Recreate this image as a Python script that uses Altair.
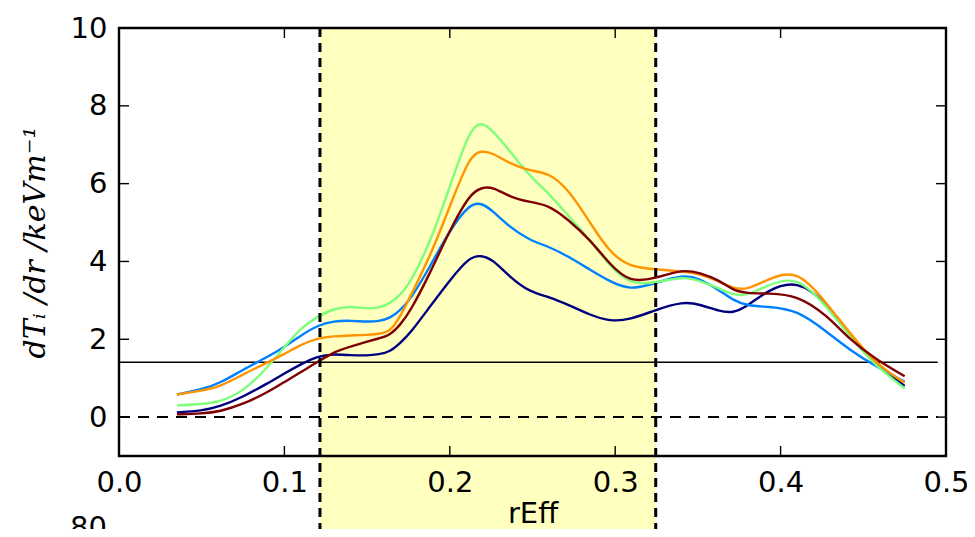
import altair as alt
import pandas as pd

# ---- data ----
r_eff = [0.035, 0.05, 0.061, 0.075, 0.09, 0.10, 0.11, 0.12, 0.13, 0.14, 0.15, 0.157,
         0.164, 0.17, 0.176, 0.188, 0.20, 0.212, 0.219, 0.226, 0.236, 0.248, 0.26,
         0.272, 0.285, 0.297, 0.309, 0.324, 0.341, 0.351, 0.363, 0.371, 0.38, 0.392,
         0.41, 0.428, 0.442, 0.458, 0.475]

s_navy = [0.12, 0.16, 0.27, 0.52, 0.87, 1.12, 1.36, 1.57, 1.62, 1.59, 1.58, 1.61,
          1.68, 1.90, 2.15, 2.84, 3.52, 4.12, 4.16, 4.05, 3.61, 3.22, 3.09, 2.88,
          2.62, 2.46, 2.50, 2.75, 2.97, 2.90, 2.72, 2.67, 2.85, 3.26, 3.54, 2.92,
          2.06, 1.33, 0.80]
s_blue = [0.58, 0.71, 0.87, 1.22, 1.55, 1.80, 2.10, 2.36, 2.47, 2.48, 2.45, 2.46,
          2.54, 2.75, 3.01, 3.86, 4.81, 5.48, 5.51, 5.30, 4.89, 4.55, 4.38, 4.12,
          3.78, 3.48, 3.26, 3.44, 3.66, 3.56, 3.26, 3.01, 2.86, 2.84, 2.76, 2.19,
          1.72, 1.29, 0.91]
s_green = [0.30, 0.33, 0.39, 0.65, 1.28, 1.80, 2.30, 2.58, 2.79, 2.85, 2.79, 2.80,
           2.92, 3.14, 3.44, 4.47, 5.92, 7.40, 7.60, 7.36, 6.86, 6.20, 5.75, 5.15,
           4.55, 3.86, 3.42, 3.44, 3.62, 3.50, 3.31, 3.14, 3.12, 3.39, 3.65, 2.84,
           2.06, 1.29, 0.74]
s_orange = [0.58, 0.68, 0.78, 1.10, 1.41, 1.62, 1.86, 2.03, 2.08, 2.10, 2.11, 2.14,
            2.19, 2.58, 3.09, 4.12, 5.41, 6.72, 6.85, 6.79, 6.52, 6.33, 6.28, 5.84,
            4.98, 4.21, 3.86, 3.80, 3.74, 3.69, 3.48, 3.31, 3.27, 3.54, 3.82, 2.92,
            2.15, 1.35, 0.88]
s_darkred = [0.07, 0.09, 0.14, 0.33, 0.64, 0.90, 1.16, 1.41, 1.68, 1.81, 1.94, 2.02,
             2.11, 2.37, 2.71, 3.69, 4.81, 5.73, 5.90, 5.92, 5.66, 5.53, 5.45, 5.06,
             4.55, 3.91, 3.46, 3.56, 3.80, 3.71, 3.52, 3.26, 3.18, 3.18, 3.14, 2.62,
             1.98, 1.47, 1.05]

series_names = ["s1", "s2", "s3", "s4", "s5"]
series_colors = ["#00007f", "#0080ff", "#7dff7a", "#ff9400", "#7f0000"]
series_values = [s_navy, s_blue, s_green, s_orange, s_darkred]

span_lo, span_hi = 0.1215, 0.3245
h_level = 1.41
x_ticks = [0.0, 0.1, 0.2, 0.3, 0.4, 0.5]
y_ticks = [0, 2, 4, 6, 8, 10]
inner_x_ticks = [0.1, 0.2, 0.3, 0.4]
inner_y_ticks = [0, 2, 4, 6, 8]

# ---- tables ----
rows = []
for k, (name, vals) in enumerate(zip(series_names, series_values)):
    for r, v in zip(r_eff, vals):
        rows.append({"r": r, "v": v, "series": name, "k": k})
curves = pd.DataFrame(rows)

W, H = 827, 428
xscale = alt.Scale(domain=[0, 0.5], nice=False, zero=False)
yscale = alt.Scale(domain=[-1, 10], nice=False, zero=False)
FS = 29
xaxis = alt.Axis(title="rEff", values=x_ticks, format=".1f", tickSize=0, domain=False,
                 grid=False, labelFontSize=FS, labelFont="DejaVu Sans", labelColor="black",
                 labelPadding=12, labelFlush=False, labelOverlap=False, titleFontSize=FS,
                 titleFont="DejaVu Sans", titleFontWeight="normal", titleColor="black",
                 titlePadding=2, zindex=1)
yaxis = alt.Axis(title="dTᵢ /dr /keVm⁻¹", values=y_ticks, format="d", tickSize=0, domain=False,
                 grid=False, labelFontSize=FS, labelFont="DejaVu Sans", labelColor="black",
                 labelPadding=12, labelFlush=False, labelOverlap=False, titleFontSize=30,
                 titleFont="DejaVu Serif", titleFontStyle="italic", titleFontWeight="normal",
                 titleColor="black", titlePadding=20, zindex=1)


def X(f):
    return alt.X(f, type="quantitative", scale=xscale, axis=xaxis)


def Y(f):
    return alt.Y(f, type="quantitative", scale=yscale, axis=yaxis)


span = alt.Chart(pd.DataFrame({"a": [span_lo], "b": [span_hi], "t": [10], "u": [-4.5]})).mark_rect(
    color="#ffffbf", clip=False).encode(x=X("a"), x2="b", y=Y("t"), y2="u")

hl = alt.Chart(pd.DataFrame({"a": [0.0], "b": [0.495], "y": [h_level]})).mark_rule(
    color="black", strokeWidth=1.6).encode(x=X("a"), x2="b", y=Y("y"))

zl = alt.Chart(pd.DataFrame({"a": [0.0], "b": [0.495], "y": [0]})).mark_rule(
    color="black", strokeWidth=2, strokeDash=[11, 8]).encode(x=X("a"), x2="b", y=Y("y"))

vl = alt.Chart(pd.DataFrame({"x": [span_lo, span_hi], "t": [10, 10], "u": [-4.5, -4.5]})).mark_rule(
    color="black", strokeWidth=3, strokeDash=[9, 6], clip=False).encode(x=X("x"), y=Y("t"), y2="u")

lines = alt.Chart(curves).mark_line(strokeWidth=2.4, interpolate="basis").encode(
    x=X("r"), y=Y("v"),
    color=alt.Color("series:N", scale=alt.Scale(domain=series_names, range=series_colors), legend=None),
    order="k:Q", detail="series:N")

ty = pd.DataFrame({"y": inner_y_ticks})
tx = pd.DataFrame({"x": inner_x_ticks})
tick_l = alt.Chart(ty).mark_rule(color="black", strokeWidth=1.4).encode(
    y=Y("y"), x=alt.value(0), x2=alt.value(10))
tick_r = alt.Chart(ty).mark_rule(color="black", strokeWidth=1.4).encode(
    y=Y("y"), x=alt.value(W - 10), x2=alt.value(W))
tick_b = alt.Chart(tx).mark_rule(color="black", strokeWidth=1.4).encode(
    x=X("x"), y=alt.value(H - 10), y2=alt.value(H))
tick_t = alt.Chart(tx).mark_rule(color="black", strokeWidth=1.4).encode(
    x=X("x"), y=alt.value(0), y2=alt.value(10))

frame = alt.Chart(pd.DataFrame({"z": [0]})).mark_rect(
    filled=False, stroke="black", strokeWidth=2.4).encode(
    x=alt.value(0), x2=alt.value(W), y=alt.value(0), y2=alt.value(H))

next_label = alt.Chart(pd.DataFrame({"x": [-0.0073], "y": [-2.85], "t": ["80"]})).mark_text(
    align="right", baseline="middle", fontSize=FS, font="DejaVu Sans", color="black", clip=False
).encode(x=X("x"), y=Y("y"), text="t:N")

chart = alt.layer(span, hl, zl, lines, vl, tick_l, tick_r, tick_b, tick_t, frame, next_label).properties(
    width=W, height=H,
    autosize=alt.AutoSizeParams(type="none"),
    padding={"left": 111, "top": 20, "right": 21, "bottom": 73},
    background="white",
).configure_view(stroke=None)

chart.save("out.html", embed_options={"renderer": "svg", "actions": False})
